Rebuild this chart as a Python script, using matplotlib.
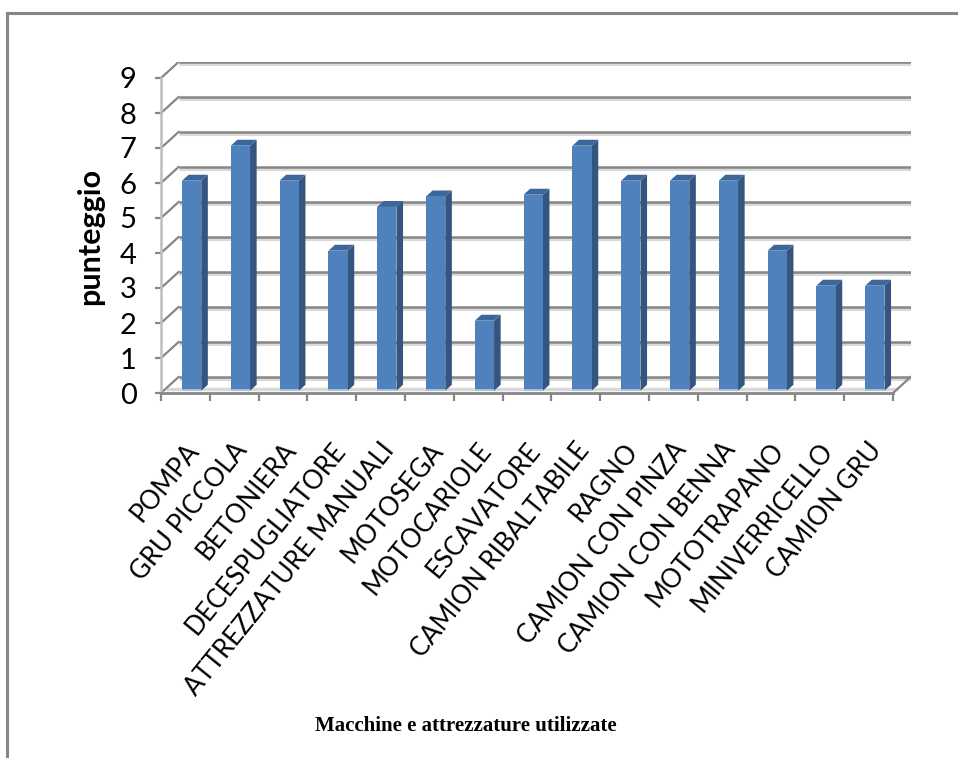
import matplotlib
matplotlib.use("Agg")
import matplotlib.pyplot as plt
from matplotlib.patches import Polygon
from matplotlib.lines import Line2D

categories = [
    "POMPA", "GRU PICCOLA", "BETONIERA", "DECESPUGLIATORE",
    "ATTREZZATURE MANUALI", "MOTOSEGA", "MOTOCARIOLE", "ESCAVATORE",
    "CAMION RIBALTABILE", "RAGNO", "CAMION CON PINZA", "CAMION CON BENNA",
    "MOTOTRAPANO", "MINIVERRICELLO", "CAMION GRU",
]
punteggio = [6, 7, 6, 4, 5.25, 5.55, 2, 5.6, 7, 6, 6, 6, 4, 3, 3]
yticks = list(range(0, 10))

W, H = 958, 758
fig = plt.figure(figsize=(W / 100, H / 100), dpi=100)

# oblique depth of the chart walls (in data units)
DX, DY = 0.36, 0.457
n = len(categories)
ymax = 9

# axes: front plane x 0..n, y 0..9, plus room for the back wall
left_px, right_px = 161, 161 + (n + DX) * 48.8
bottom_px, top_px = 393, 78 - DY * 35.0
ax = fig.add_axes([left_px / W, 1 - bottom_px / H,
                   (right_px - left_px) / W, (bottom_px - top_px) / H])
ax.set_xlim(0, n + DX)
ax.set_ylim(0, ymax + DY)
ax.patch.set_alpha(0)

grid_dark = "#868686"
grid_light = "#d9d9d9"

# back wall gridlines with soft shadow
for v in yticks:
    ax.plot([DX, n + DX], [v + DY - 0.06, v + DY - 0.06], color=grid_light,
            lw=2.2, solid_capstyle="butt", zorder=1)
    ax.plot([DX, n + DX], [v + DY, v + DY], color=grid_dark,
            lw=1.8, solid_capstyle="butt", zorder=1.1)
    # side wall diagonals
    ax.plot([0, DX], [v, v + DY], color=grid_dark, lw=1.6, zorder=1.1)

# floor right edge and light floor band
ax.plot([n, n + DX], [0, DY], color=grid_dark, lw=1.6, zorder=1.1)
ax.plot([0.1, n + 0.1], [0.12, 0.12], color=grid_light, lw=2.5,
        solid_capstyle="butt", zorder=1)

# bars drawn as oblique boxes
bx0, bw = 0.43, 0.395
by0 = 0.066
sdx, sdy = 0.135, 0.17
front_c = "#4F81BD"
side_c = "#34557F"
top_c = "#3D679A"
for i, v in enumerate(punteggio):
    x0 = i + bx0
    x1 = x0 + bw
    y0 = by0
    y1 = by0 + v
    ax.add_patch(Polygon([(x1, y0), (x1 + sdx, y0 + sdy), (x1 + sdx, y1 + sdy), (x1, y1)],
                         closed=True, facecolor=side_c, edgecolor="none", zorder=3))
    ax.add_patch(Polygon([(x0, y1), (x1, y1), (x1 + sdx, y1 + sdy), (x0 + sdx, y1 + sdy)],
                         closed=True, facecolor=top_c, edgecolor="none", zorder=3))
    ax.add_patch(Polygon([(x0, y0), (x1, y0), (x1, y1), (x0, y1)],
                         closed=True, facecolor=front_c, edgecolor="none", zorder=4))
    ax.plot([x0, x1], [y0 + 0.02, y0 + 0.02], color="#B9CDE5", lw=1.2,
            solid_capstyle="butt", zorder=5)

# axes lines
for s in ("top", "right"):
    ax.spines[s].set_visible(False)
ax.spines["left"].set_bounds(0, ymax)
ax.spines["left"].set_color("#BFBFBF")
ax.spines["left"].set_linewidth(1.8)
ax.spines["bottom"].set_bounds(0, n)
ax.spines["bottom"].set_color(grid_dark)
ax.spines["bottom"].set_linewidth(2.0)
ax.spines["left"].set_zorder(6)
ax.spines["bottom"].set_zorder(6)

ax.set_yticks(yticks)
ax.set_yticklabels([str(t) for t in yticks])
ax.tick_params(axis="y", length=4.5, width=1.6, color=grid_dark, pad=13,
               labelsize=21)
for lab in ax.get_yticklabels():
    lab.set_fontfamily(["Lato", "DejaVu Sans"])

ax.set_xticks([i for i in range(n + 1)], minor=True)
ax.tick_params(axis="x", which="minor", length=6, width=1.6, color=grid_dark,
               direction="out")
ax.set_xticks([i + 0.68 for i in range(n)])
ax.set_xticklabels(categories, rotation=51, ha="right", va="center",
                   rotation_mode="anchor", fontsize=18.5,
                   fontfamily=["Lato", "DejaVu Sans"])
ax.tick_params(axis="x", which="major", length=0, pad=38)

fig.text(90 / W, 1 - 236 / H, "punteggio", rotation=90, ha="center",
         va="center", fontsize=22, fontweight="bold",
         fontfamily=["Lato", "DejaVu Sans"])
fig.text(466 / W, 1 - 726 / H, "Macchine e attrezzature utilizzate",
         ha="center", va="center", fontsize=15, fontweight="bold",
         fontfamily=["Liberation Serif", "DejaVu Serif"])

# outer frame (top and left edges)
fig.add_artist(Line2D([7 / W, 1], [1 - 13 / H, 1 - 13 / H], color=grid_dark,
                      lw=2.2, transform=fig.transFigure))
fig.add_artist(Line2D([7 / W, 7 / W], [1 - 13 / H, 0], color=grid_dark,
                      lw=2.2, transform=fig.transFigure))

fig.savefig("out.png", dpi=100, facecolor="white")
